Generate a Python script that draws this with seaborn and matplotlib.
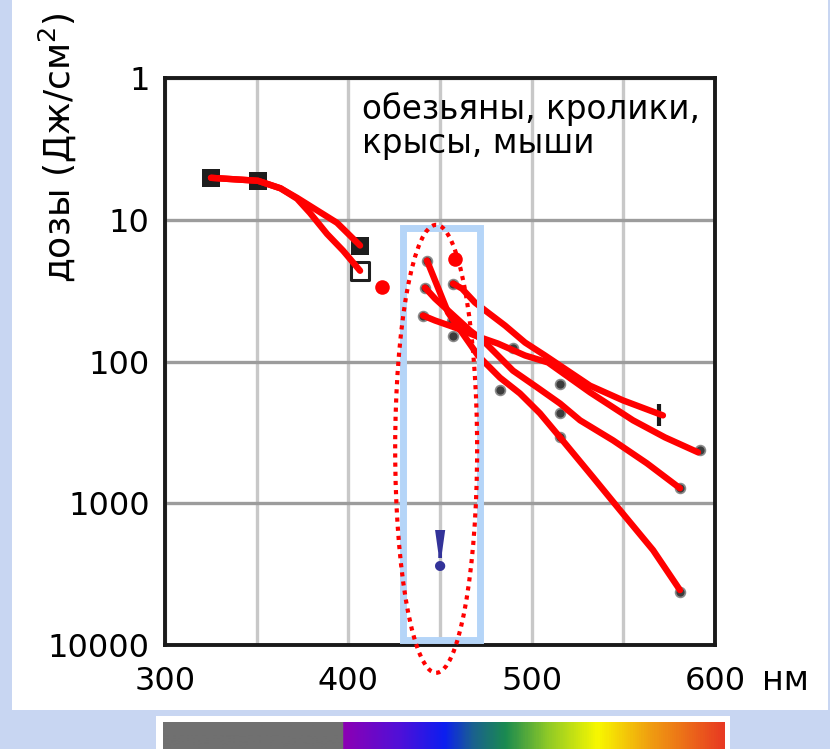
import numpy as np
import pandas as pd
import matplotlib
matplotlib.use("Agg")
import matplotlib.pyplot as plt
import seaborn as sns
from matplotlib.patches import Rectangle, Ellipse
from matplotlib.colors import LinearSegmentedColormap
from matplotlib.ticker import NullLocator, FixedLocator

# ---------------- data ----------------
curve_a_x = [325.1, 350.7, 363.0, 372.0, 380.7, 393.8, 406.4]
curve_a_y = [5.06, 5.31, 6.0, 7.0, 8.23, 10.5, 15.2]
curve_b_x = [325.1, 350.7, 363.0, 372.0, 379.0, 388.4, 397.1, 406.4]
curve_b_y = [5.06, 5.31, 6.0, 7.1, 8.93, 12.6, 16.5, 22.9]
line1_x = [457.1, 462.0, 469.1, 476.2, 485.5, 496.4, 507.3, 531.8, 549.8, 571.6]
line1_y = [28.2, 30.6, 38.4, 45.2, 55.8, 73.5, 90.7, 148, 188, 240]
line2_x = [440.7, 447.3, 458.2, 469.1, 481.6, 496.4, 508.9, 531.8, 555.3, 572.7, 590.7]
line2_y = [47.4, 51.4, 57.6, 65.6, 74.7, 90.7, 101.6, 165, 260, 343, 437]
line3_x = [441.8, 447.3, 466.4, 473.5, 489.8, 502.9, 515.5, 526.4, 544.4, 562.9, 580.9]
line3_y = [30.1, 36.0, 60.5, 71.2, 116, 152, 198, 260, 360, 523, 784]
line4_x = [442.9, 454.4, 470.7, 482.7, 493.6, 504.5, 515.5, 533.5, 548.2, 566.2, 580.9]
line4_y = [19.4, 45.2, 90.7, 130, 168, 232, 343, 656, 1120, 2140, 4100]

red_dot_x = [418.4, 458.2]
red_dot_y = [29.6, 18.8]

dark_pt_x = [442.9, 441.8, 440.7, 457.1, 456.5, 457.1, 489.8, 482.7, 515.5, 515.5, 515.5, 591.8, 580.9, 580.9]
dark_pt_y = [19.4, 30.1, 47.4, 28.2, 51.4, 65.6, 79.7, 160, 143, 229, 343, 424, 784, 4230]
tick_pt_x = [569.5]
tick_pt_y = [240]

sq_filled_x = [325.1, 350.7, 406.4]
sq_filled_y = [5.06, 5.31, 15.2]
sq_open_x = [406.4]
sq_open_y = [22.9]

x_ticks = [300, 350, 400, 450, 500, 550, 600]
x_tick_labels = ["300", "", "400", "", "500", "", "600"]
y_ticks = [1, 10, 100, 1000, 10000]
y_tick_labels = ["1", "10", "100", "1000", "10000"]

species_text = "обезьяны, кролики,\nкрысы, мыши"
y_title = "дозы (Дж/см$^2$)"
x_unit = "нм"

# ---------------- build table ----------------
series = {
    "a": (curve_a_x, curve_a_y),
    "b": (curve_b_x, curve_b_y),
    "l1": (line1_x, line1_y),
    "l2": (line2_x, line2_y),
    "l3": (line3_x, line3_y),
    "l4": (line4_x, line4_y),
}
rows = []
for name, (xs, ys) in series.items():
    for i, (xv, yv) in enumerate(zip(xs, ys)):
        rows.append({"series": name, "order": i, "nm": xv, "dose": yv})
df = pd.DataFrame(rows)

sns.set_theme(style="white")
plt.rcParams["font.family"] = ["DejaVu Sans"]
plt.rcParams["mathtext.fontset"] = "dejavusans"

W, H = 830, 749
fig = plt.figure(figsize=(W / 100, H / 100), dpi=100)
fig.patch.set_facecolor("#c8d6f2")

# white panel
fig.patches.append(Rectangle((12 / W, (H - 710) / H), 816 / W, 710 / H,
                             transform=fig.transFigure, facecolor="white",
                             edgecolor="none", zorder=-5))
# white frame for spectrum
fig.patches.append(Rectangle((156 / W, 0), 574 / W, (H - 716) / H,
                             transform=fig.transFigure, facecolor="white",
                             edgecolor="none", zorder=-5))

ax = fig.add_axes([165 / W, (H - 645) / H, 550 / W, 567 / H])
ax.set_facecolor("white")

sns.lineplot(data=df, x="nm", y="dose", units="series", estimator=None,
             sort=False, color="#ff0000", lw=4.6, ax=ax, zorder=4)

sns.scatterplot(x=dark_pt_x, y=dark_pt_y, ax=ax, color="#3c3c3c", s=50,
                marker="o", edgecolor="#8a8a8a", linewidth=1.2, zorder=3)
sns.scatterplot(x=tick_pt_x, y=tick_pt_y, ax=ax, color="#1a1a1a", s=240,
                marker="|", linewidth=3, zorder=3)
sns.scatterplot(x=sq_filled_x, y=sq_filled_y, ax=ax, color="#1e1e1e", s=150,
                marker="s", edgecolor="#1e1e1e", linewidth=0, zorder=3)
sns.scatterplot(x=sq_open_x, y=sq_open_y, ax=ax, color="white", s=150,
                marker="s", edgecolor="#1e1e1e", linewidth=2.2, zorder=3)
sns.scatterplot(x=red_dot_x, y=red_dot_y, ax=ax, color="#ff0000", s=110,
                marker="o", edgecolor="#ff0000", linewidth=0, zorder=5)

ax.set_yscale("log")
ax.set_xlim(300, 600)
ax.set_ylim(10000, 1)
ax.xaxis.set_major_locator(FixedLocator(x_ticks))
ax.set_xticklabels(x_tick_labels)
ax.yaxis.set_major_locator(FixedLocator(y_ticks))
ax.yaxis.set_minor_locator(NullLocator())
ax.set_yticklabels(y_tick_labels)

ax.set_axisbelow(True)
ax.xaxis.grid(True, color="#c8c8c8", lw=2.4)
ax.yaxis.grid(True, color="#9c9c9c", lw=2.4)
for s in ax.spines.values():
    s.set_visible(True)
    s.set_color("#1a1a1a")
    s.set_linewidth(2.8)
ax.tick_params(axis="both", length=0, labelsize=23, colors="black")
ax.tick_params(axis="y", pad=11)
ax.tick_params(axis="x", pad=15)
ax.set_xlabel("")
ax.set_ylabel(y_title, fontsize=26, color="black")
ax.yaxis.set_label_coords(-0.158, 0.878)

# blue highlight box and dotted ellipse
ax.add_patch(Rectangle((0.432, 0.009), 0.140, 0.727, transform=ax.transAxes,
                       fill=False, edgecolor="#b5d5f8", lw=5, zorder=6,
                       clip_on=False))
ax.add_patch(Ellipse((0.493, 0.346), 0.149, 0.79, transform=ax.transAxes,
                     fill=False, edgecolor="#ff0000", lw=3.0,
                     linestyle=(0, (1, 1.2)), zorder=7, clip_on=False))

ax.text(0.5, 0.158, "!", transform=ax.transAxes, ha="center", va="center",
        fontsize=40, fontweight="bold", color="#333399",
        family=["DejaVu Serif"], zorder=8)
ax.text(0.358, 0.975, species_text, transform=ax.transAxes, ha="left",
        va="top", fontsize=23.5, color="black", linespacing=1.05, zorder=8)
ax.text(1.085, -0.062, x_unit, transform=ax.transAxes, ha="left",
        va="center", fontsize=24, color="black")

# spectrum bar
spec = fig.add_axes([163 / W, 0, 561 / W, (H - 722) / H])
cmap = LinearSegmentedColormap.from_list("spec", [
    (0.0, "#707070"), (0.319, "#707070"), (0.321, "#8c00b4"),
    (0.42, "#5010d8"), (0.501, "#0c1ef0"), (0.551, "#1a6090"),
    (0.610, "#1a8a50"), (0.684, "#8cc828"), (0.775, "#f8f800"),
    (0.866, "#f0a010"), (1.0, "#e83a22")])
spec.imshow(np.linspace(0, 1, 561)[None, :], aspect="auto", cmap=cmap,
            extent=[0, 1, 0, 1])
spec.set_axis_off()

fig.savefig("out.png", dpi=100)
